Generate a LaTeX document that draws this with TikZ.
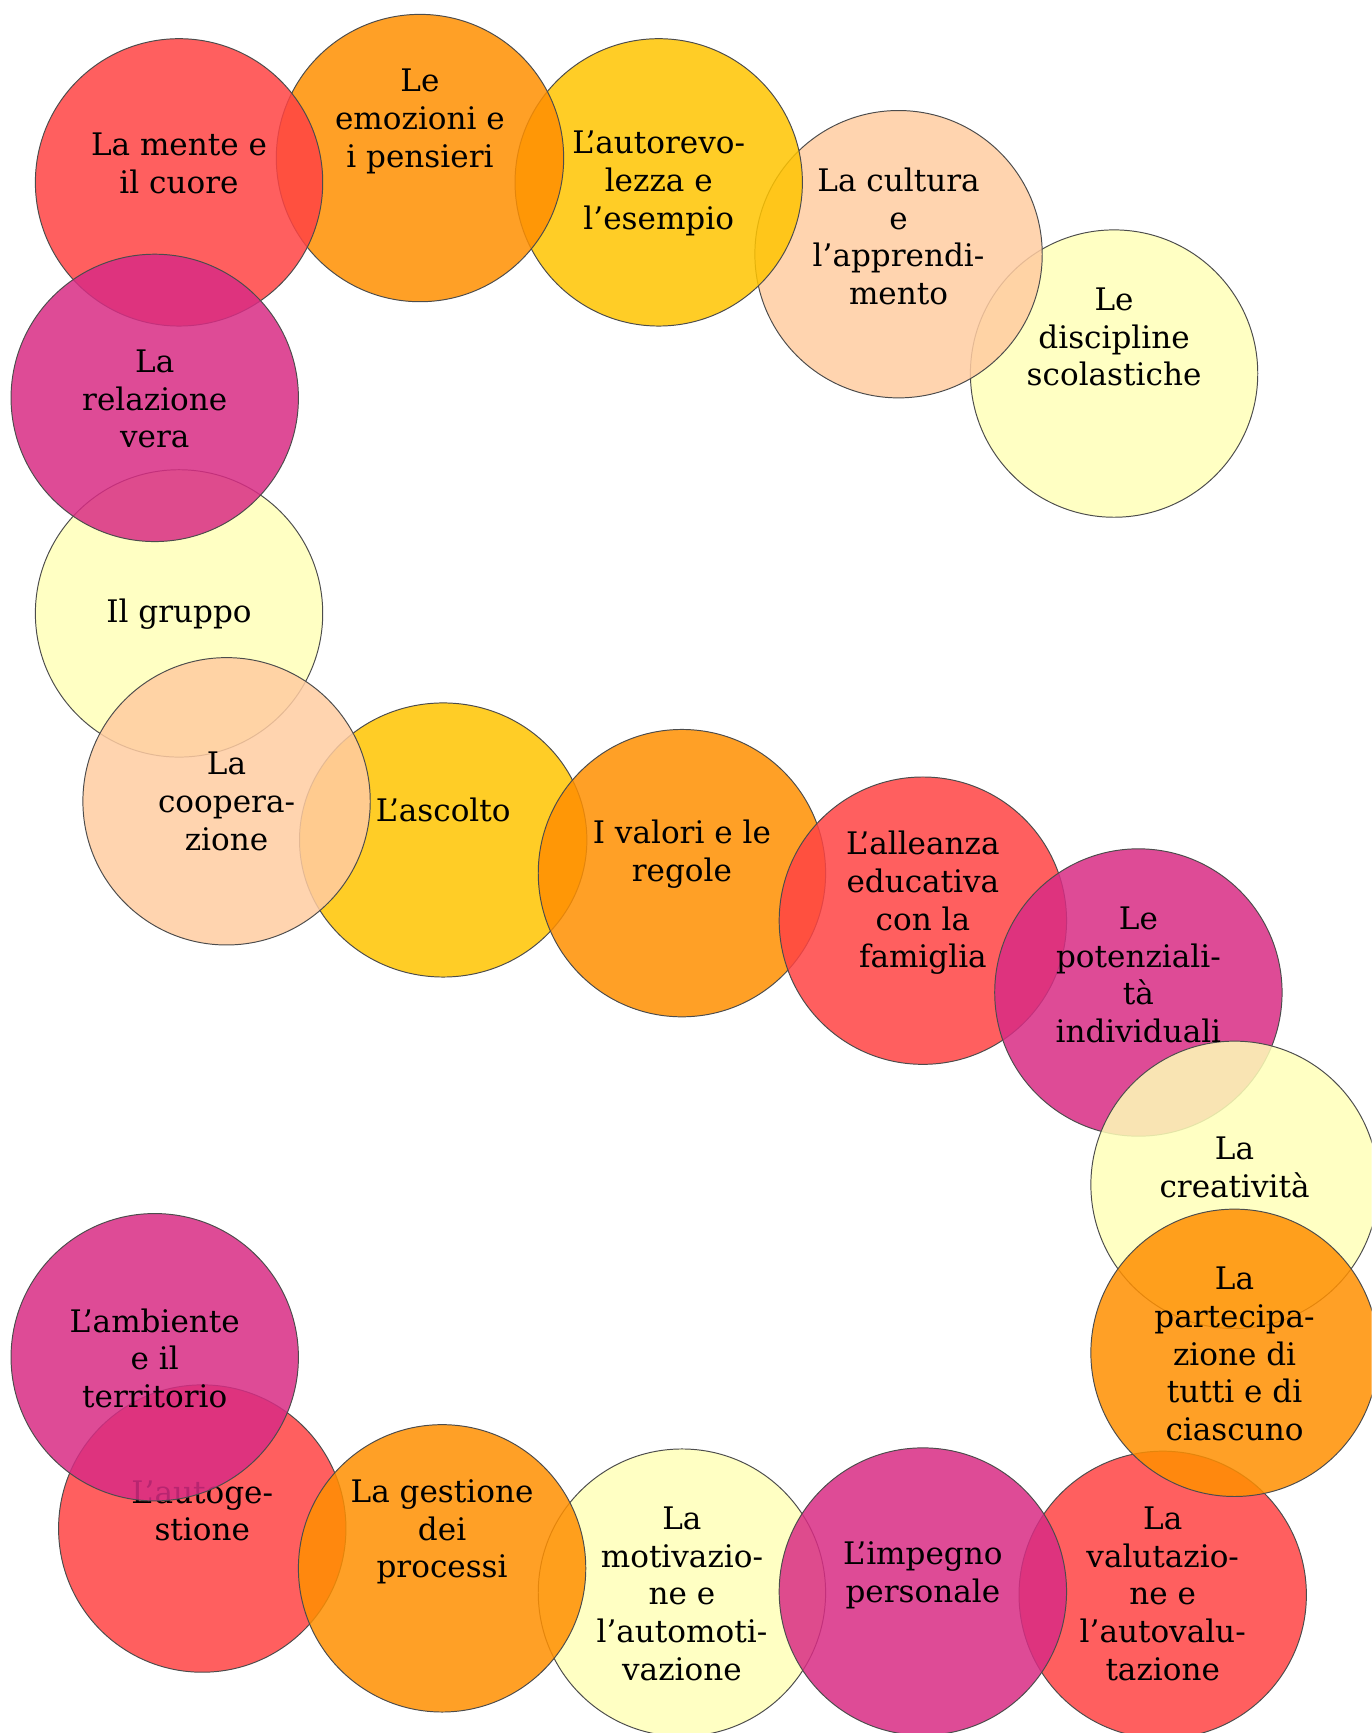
\documentclass[tikz,border=0pt]{standalone}
\usepackage{fontspec}
\setmainfont{DejaVu Serif}
\usepackage{xcolor}
\definecolor{bubblered}{RGB}{255, 67, 67}
\definecolor{bubbleorange}{RGB}{255, 143, 0}
\definecolor{bubblegold}{RGB}{255, 196, 0}
\definecolor{bubblepeach}{RGB}{255, 204, 161}
\definecolor{bubblecream}{RGB}{255, 255, 184}
\definecolor{bubblemagenta}{RGB}{216, 44, 132}

\tikzset{
  bubble/.style={draw=black!70, line width=0.5pt, fill opacity=0.85},
  bubbletext/.style={align=center, inner sep=0pt, font=\fontsize{16}{19.4}\selectfont},
}

\begin{document}
\begin{tikzpicture}[x=0.02cm, y=-0.02cm]
    \useasboundingbox (0,0) rectangle (1241,1568);
    \clip (0,0) rectangle (1241,1568);

    % upper arc, drawn back to front
    \filldraw[bubble, fill=bubblecream] (1008,338) circle (130);
    \filldraw[bubble, fill=bubblepeach] (813,230) circle (130);
    \filldraw[bubble, fill=bubblegold] (596,165) circle (130);
    \filldraw[bubble, fill=bubbleorange] (380,143) circle (130);
    \filldraw[bubble, fill=bubblered] (162,165) circle (130);
    \filldraw[bubble, fill=bubblecream] (162,555) circle (130);
    \filldraw[bubble, fill=bubblemagenta] (140,360) circle (130);

    % middle row
    \filldraw[bubble, fill=bubblegold] (401,760) ellipse [x radius=130, y radius=124];
    \filldraw[bubble, fill=bubblepeach] (205,725) circle (130);
    \filldraw[bubble, fill=bubbleorange] (617,790) circle (130);
    \filldraw[bubble, fill=bubblered] (835,833) circle (130);
    \filldraw[bubble, fill=bubblemagenta] (1030,898) circle (130);
    \filldraw[bubble, fill=bubblecream] (1117,1072) circle (130);

    % lower row
    \filldraw[bubble, fill=bubblered] (1052,1443) circle (130);
    \filldraw[bubble, fill=bubbleorange] (1117,1224) circle (130);
    \filldraw[bubble, fill=bubblecream] (617,1441) circle (130);
    \filldraw[bubble, fill=bubblemagenta] (835,1440) circle (130);
    \filldraw[bubble, fill=bubblered] (183,1383) circle (130);
    \node[bubbletext] (autogestione) at (183,1367) {L’autoge-\\stione};
    \filldraw[bubble, fill=bubbleorange] (400,1419) circle (130);
    \filldraw[bubble, fill=bubblemagenta] (140,1228) circle (130);

    % labels
    \node[bubbletext] (mente) at (162,148) {La mente e\\il cuore};
    \node[bubbletext] (emozioni) at (380,110) {Le\\emozioni e\\i pensieri};
    \node[bubbletext] (autorevolezza) at (596,166) {L’autorevo-\\lezza e\\l’esempio};
    \node[bubbletext] (cultura) at (813,214) {La cultura\\e\\l’apprendi-\\mento};
    \node[bubbletext] (discipline) at (1008,305) {Le\\discipline\\scolastiche};
    \node[bubbletext] (relazione) at (140,361) {La\\relazione\\vera};
    \node[bubbletext] (gruppo) at (162,556) {Il gruppo};
    \node[bubbletext] (cooperazione) at (205,725) {La\\coopera-\\zione};
    \node[bubbletext] (ascolto) at (401,733) {L’ascolto};
    \node[bubbletext] (valori) at (617,773) {I valori e le\\regole};
    \node[bubbletext] (alleanza) at (835,817) {L’alleanza\\educativa\\con la\\famiglia};
    \node[bubbletext] (potenzialita) at (1030,882) {Le\\potenziali-\\tà\\individuali};
    \node[bubbletext] (creativita) at (1117,1056) {La\\creatività};
    \node[bubbletext] (partecipazione) at (1117,1225) {La\\partecipa-\\zione di\\tutti e di\\ciascuno};
    \node[bubbletext] (valutazione) at (1052,1442) {La\\valutazio-\\ne e\\l’autovalu-\\tazione};
    \node[bubbletext] (impegno) at (835,1425) {L’impegno\\personale};
    \node[bubbletext] (motivazione) at (617,1442) {La\\motivazio-\\ne e\\l’automoti-\\vazione};
    \node[bubbletext] (gestione) at (400,1386) {La gestione\\dei\\processi};
    \node[bubbletext] (ambiente) at (140,1229) {L’ambiente\\e il\\territorio};
\end{tikzpicture}
\end{document}
